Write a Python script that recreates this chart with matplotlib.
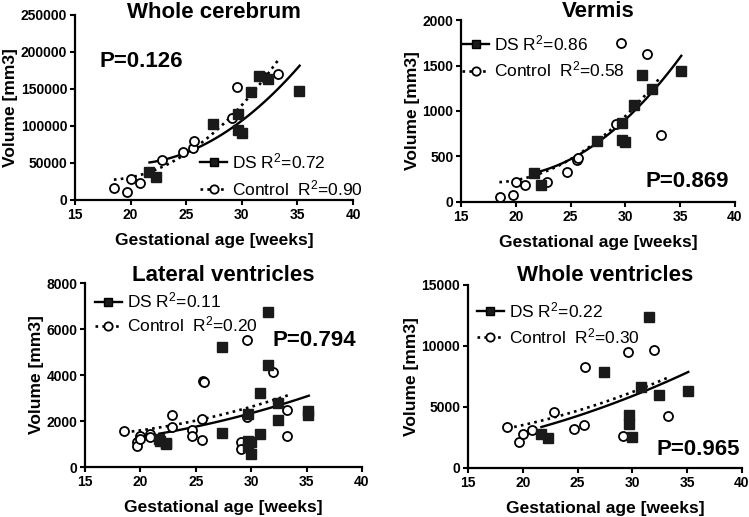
import numpy as np
import matplotlib
matplotlib.use("Agg")
import matplotlib.pyplot as plt
from matplotlib.lines import Line2D

plt.rcParams["font.family"] = ["Liberation Sans", "DejaVu Sans"]
plt.rcParams["mathtext.fontset"] = "custom"
plt.rcParams["mathtext.rm"] = "Liberation Sans"
plt.rcParams["mathtext.it"] = "Liberation Sans:italic"
plt.rcParams["mathtext.bf"] = "Liberation Sans:bold"

# ------------------------------------------------------------
# Data (gestational age in weeks, volume in mm3)
# ------------------------------------------------------------
ds_age = [21.7, 22.3, 27.4, 29.7, 29.7, 30.0, 30.8, 31.55, 32.4, 35.1]
ctrl_age = [18.55, 19.7, 20.0, 20.85, 22.87, 24.7, 25.6, 25.7, 29.1, 29.6, 32.0, 33.25]

cereb_ds = [37400, 30600, 103000, 116000, 95000, 90500, 145500, 167000, 163000, 147700]
cereb_ctrl = [16000, 10500, 28000, 22500, 54000, 64500, 70000, 80000, 110500, 152500, 166500, 170300]

vermis_ds = [318, 186, 669, 867, 684, 662, 1068, 1397, 1240, 1444]
vermis_ctrl = [55, 73, 223, 186, 223, 333, 461, 483, 859, 1744, 1623, 739]

# lateral ventricles: two points per subject
lv_ds_age = [21.7, 21.75, 22.3, 22.35, 27.4, 27.4, 29.7, 29.7, 29.7, 30.0, 30.0,
             30.8, 30.8, 31.55, 31.55, 32.4, 32.4, 35.1, 35.1]
lv_ds = [1200, 1120, 1050, 1000, 5200, 1500, 2300, 1150, 850, 1100, 580,
         3230, 1420, 6720, 4440, 2800, 2050, 2430, 2260]
lv_ctrl_age = [18.55, 19.7, 19.7, 20.0, 20.0, 20.85, 20.85, 22.87, 22.87, 24.7, 24.7,
               25.6, 25.6, 25.65, 25.7, 29.1, 29.1, 29.6, 29.6, 32.0, 33.25, 33.25]
lv_ctrl = [1570, 1100, 920, 1330, 1200, 1450, 1310, 2250, 1740, 1600, 1330,
           2080, 1170, 3760, 3700, 1070, 780, 5530, 2180, 4120, 2460, 1360]

wv_ds = [2810, 2450, 7830, 4360, 3630, 2510, 6630, 12410, 6000, 6270]
wv_ctrl = [3330, 2130, 2780, 3080, 4550, 3220, 3550, 8260, 2590, 9490, 9680, 4280]

# fitted curves, points
fit_cereb_ds = ([21.7, 28.4, 31.5, 35.2], [50500, 91500, 124000, 182000])
fit_cereb_ctrl = ([18.5, 25.7, 29.1, 33.3], [27000, 73000, 110000, 191000])
fit_vermis_ds = ([21.7, 27.4, 29.7, 35.1], [318, 660, 860, 1609])
fit_vermis_ctrl = ([18.5, 25.5, 29.1, 33.25], [219, 500, 850, 1378])
fit_lv_ds = ([21.7, 29.7, 35.2], [1450, 2300, 3100])
fit_lv_ctrl = ([18.6, 25.6, 33.3], [1507, 2080, 3115])
fit_wv_ds = ([21.7, 25.2, 30.8, 35.1], [3440, 4150, 6340, 7810])
fit_wv_ctrl = ([18.6, 25.2, 33.3], [3250, 4750, 7430])

titles = ["Whole cerebrum", "Vermis", "Lateral ventricles", "Whole ventricles"]
p_values = ["P=0.126", "P=0.869", "P=0.794", "P=0.965"]
r2_ds = ["0.72", "0.86", "0.11", "0.22"]
r2_ctrl = ["0.90", "0.58", "0.20", "0.30"]
y_max = [250000, 2000, 8000, 15000]
y_step = [50000, 500, 2000, 5000]


def draw_fit(ax, fit, ls):
    fx, fy = fit
    coef = np.polyfit(fx, fy, 2)
    xs = np.linspace(fx[0], fx[-1], 100)
    ax.plot(xs, np.polyval(coef, xs), color="black", ls=ls,
            lw=1.7 if ls == "-" else 1.9, zorder=2)


def style_axes(ax, ymax, step):
    ax.set_xlim(15, 40)
    ax.set_ylim(0, ymax)
    ax.set_xticks(range(15, 41, 5))
    ax.set_yticks(np.arange(0, ymax + 1, step))
    for s in ["top", "right"]:
        ax.spines[s].set_visible(False)
    for s in ["left", "bottom"]:
        ax.spines[s].set_linewidth(1.6)
    ax.tick_params(direction="out", length=3.5, width=1.5, labelsize=10, pad=2)
    for lab in ax.get_xticklabels() + ax.get_yticklabels():
        lab.set_fontweight("bold")
    ax.set_xlabel("Gestational age [weeks]", fontsize=12.5, fontweight="bold", labelpad=8)
    ax.set_ylabel("Volume [mm3]", fontsize=12.5, fontweight="bold", labelpad=2)


fig = plt.figure(figsize=(7.49, 5.17), dpi=100)
boxes = [
    [0.1001, 0.6132, 0.3712, 0.3578],
    [0.6155, 0.6093, 0.3658, 0.3520],
    [0.1135, 0.0967, 0.3698, 0.3559],
    [0.6248, 0.0948, 0.3658, 0.3540],
]
axes = [fig.add_axes(b) for b in boxes]

panels = [
    (ds_age, cereb_ds, ctrl_age, cereb_ctrl, fit_cereb_ds, fit_cereb_ctrl),
    (ds_age, vermis_ds, ctrl_age, vermis_ctrl, fit_vermis_ds, fit_vermis_ctrl),
    (lv_ds_age, lv_ds, lv_ctrl_age, lv_ctrl, fit_lv_ds, fit_lv_ctrl),
    (ds_age, wv_ds, ctrl_age, wv_ctrl, fit_wv_ds, fit_wv_ctrl),
]

title_y = [0.984, 1.018, 1.011, 1.023]
p_pos = [(17.25, 187800, "left"), (39.45, 220, "right"),
         (31.9, 5520, "left"), (39.8, 1475, "right")]
leg_anchor = [(0.45, 0.262), (0.004, 0.927), (0.036, 0.958), (0.033, 0.917)]
leg_spacing = [0.38, 0.38, 0.25, 0.38]

for i, ax in enumerate(axes):
    xd, yd, xc, yc, fd, fc = panels[i]
    style_axes(ax, y_max[i], y_step[i])
    draw_fit(ax, fd, "-")
    draw_fit(ax, fc, (0, (1, 1.6)))
    ax.plot(xc, yc, ls="none", marker="o", ms=6.5, mfc="white", mec="black",
            mew=1.3, zorder=3, clip_on=False)
    ax.plot(xd, yd, ls="none", marker="s", ms=6.5, color="#1a1a1a", zorder=4,
            clip_on=False)

    ax.text(0.5, title_y[i], titles[i], transform=ax.transAxes, ha="center",
            va="baseline", fontsize=16, fontweight="bold")
    px, py, ha = p_pos[i]
    ax.text(px, py, p_values[i], ha=ha, va="center", fontsize=16, fontweight="bold")

    handles = [
        Line2D([], [], color="black", ls="-", lw=1.7, marker="s", ms=6, mfc="#1a1a1a"),
        Line2D([], [], color="black", ls=(0, (1, 1.6)), lw=1.9, marker="o", ms=6,
               mfc="white", mew=1.3),
    ]
    labels = ["DS R$^{2}$=" + r2_ds[i], "Control  R$^{2}$=" + r2_ctrl[i]]
    ax.legend(handles, labels, loc="upper left", bbox_to_anchor=leg_anchor[i],
              frameon=False, fontsize=12.5, handlelength=1.55, handletextpad=0.3,
              labelspacing=leg_spacing[i], borderpad=0, borderaxespad=0, numpoints=1)

fig.savefig("out.png", dpi=100)
